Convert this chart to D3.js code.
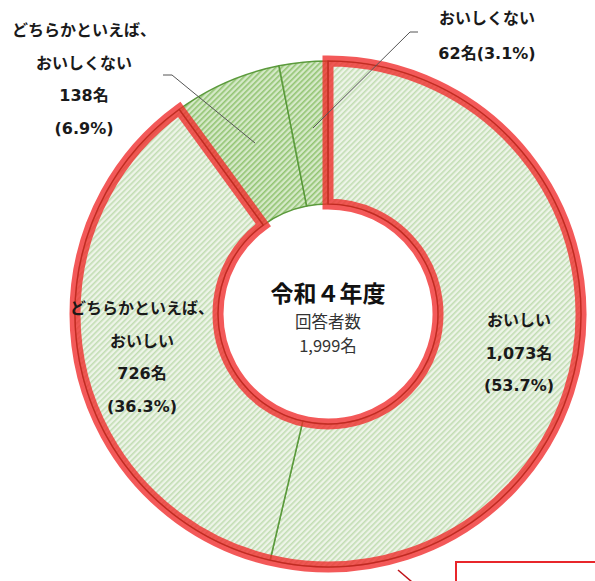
<!DOCTYPE html>
<html>
<head>
<meta charset="utf-8">
<script src="https://cdn.jsdelivr.net/npm/d3@7"></script>
<style>
  body { margin: 0; background: #fff; }
  svg { display: block; font-family: "Noto Sans CJK JP", "Noto Sans", sans-serif; }
  .lbl { font-family: "DejaVu Sans", "Noto Sans CJK JP", sans-serif; }
</style>
</head>
<body>
<div id="chart"></div>
<script>
const categories = ["おいしい", "どちらかといえば、おいしい", "どちらかといえば、おいしくない", "おいしくない"];
const counts = [1073, 726, 138, 62];
const percents = [53.7, 36.3, 6.9, 3.1];
const labelLines = [
  ["おいしい", "1,073名", "(53.7%)"],
  ["どちらかといえば、", "おいしい", "726名", "(36.3%)"],
  ["どちらかといえば、", "おいしくない", "138名", "(6.9%)"],
  ["おいしくない", "62名(3.1%)"]
];
const centerTitle = "令和４年度";
const centerSub = ["回答者数", "1,999名"];

(function donut(){
let width = 595,
    height = 581,
    cx = 328, cy = 314,
    outer = 253, inner = 110;

const svg = d3.select("#chart")
    .append("svg")
    .attr("width", width)
    .attr("height", height)
    .attr("viewBox", [0, 0, width, height]);

// hatch patterns
const defs = svg.append("defs");
const hatch = (id, bg, fg) => {
    let p = defs.append("pattern")
        .attr("id", id)
        .attr("patternUnits", "userSpaceOnUse")
        .attr("width", 4).attr("height", 4)
        .attr("patternTransform", "rotate(-45)");
    p.append("rect").attr("width", 4).attr("height", 4).attr("fill", bg);
    p.append("rect").attr("width", 4).attr("height", 1.6).attr("fill", fg);
};
hatch("light", "#edf4e8", "#c2ddb3");
hatch("dark", "#d5e9c8", "#92c472");

const fills = ["url(#light)", "url(#light)", "url(#dark)", "url(#dark)"];

const data = categories.map((c, i) => ({name: c, count: counts[i], pct: percents[i]}));

const pie = d3.pie()
    .sort(null)
    .value(d => d.count);

const arc = d3.arc()
    .innerRadius(inner)
    .outerRadius(outer);

const arcs = pie(data);

const g = svg.append("g")
    .attr("transform", `translate(${cx},${cy})`);

g.selectAll("path.slice")
    .data(arcs)
    .join("path")
    .attr("class", "slice")
    .attr("d", arc)
    .attr("fill", (d, i) => fills[i])
    .attr("stroke", "#5b9a3c")
    .attr("stroke-width", 1.5);

// red highlight around the first two slices
const hl = arc({startAngle: arcs[0].startAngle, endAngle: arcs[1].endAngle});
g.append("path")
    .attr("d", hl)
    .attr("fill", "none")
    .attr("stroke", "#f02a2a")
    .attr("stroke-opacity", 0.78)
    .attr("stroke-width", 11)
    .attr("stroke-linejoin", "miter");

g.append("path")
    .attr("d", hl)
    .attr("fill", "none")
    .attr("stroke", "#b8181c")
    .attr("stroke-opacity", 0.6)
    .attr("stroke-width", 1.2);

// center text
g.append("text")
    .attr("text-anchor", "middle")
    .attr("y", -12)
    .style("font-size", "23px")
    .style("font-weight", "bold")
    .style("fill", "#111")
    .text(centerTitle);

g.selectAll("text.sub")
    .data(centerSub)
    .join("text")
    .attr("class", "sub")
    .attr("text-anchor", "middle")
    .attr("y", (d, i) => 14 + i * 24)
    .style("font-size", "16.5px")
    .style("fill", "#333")
    .text(d => d);

// labels
const labelPos = [
    {x: 519, y: 326, dy: 32.5},
    {x: 142, y: 314, dy: 32.5},
    {x: 84, y: 36, dy: 32.5},
    {x: 487, y: 24, dy: 35}
];

labelLines.forEach((lines, i) => {
    svg.append("g")
        .selectAll("text")
        .data(lines)
        .join("text")
        .attr("class", "lbl")
        .attr("x", labelPos[i].x)
        .attr("y", (d, j) => labelPos[i].y + j * labelPos[i].dy)
        .attr("text-anchor", "middle")
        .style("font-size", "16px")
        .style("font-weight", "bold")
        .style("fill", "#1a1a1a")
        .text(d => d);
});

// leader lines
const leader = d3.line();
svg.append("path")
    .attr("d", leader([[163, 75], [172, 75], [255, 143]]))
    .attr("fill", "none")
    .attr("stroke", "#555")
    .attr("stroke-width", 1);

svg.append("path")
    .attr("d", leader([[418, 32], [410, 32], [313, 128]]))
    .attr("fill", "none")
    .attr("stroke", "#555")
    .attr("stroke-width", 1);

// partial callout box at bottom right
svg.append("rect")
    .attr("x", 456).attr("y", 562)
    .attr("width", 160).attr("height", 40)
    .attr("fill", "#fff")
    .attr("stroke", "#e8262b")
    .attr("stroke-width", 2);

svg.append("line")
    .attr("x1", 398).attr("y1", 570)
    .attr("x2", 412).attr("y2", 582)
    .attr("stroke", "#c0141a")
    .attr("stroke-width", 1.5);
})();
</script>
</body>
</html>
